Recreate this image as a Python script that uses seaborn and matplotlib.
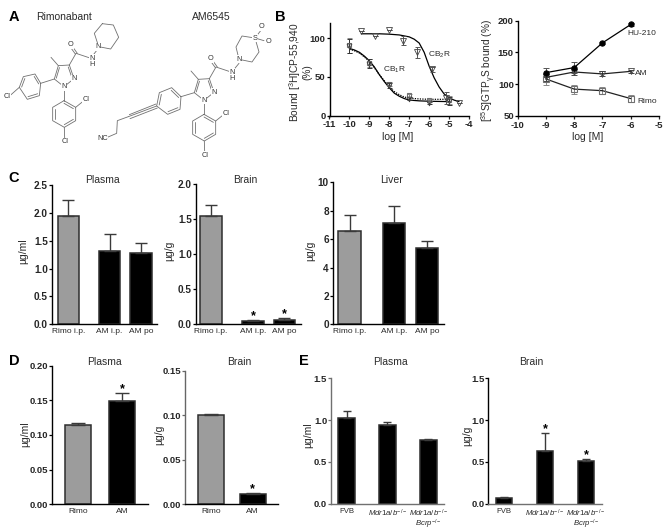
import numpy as np
import matplotlib
matplotlib.use("Agg")
import matplotlib.pyplot as plt
import seaborn as sns

W, H = 666, 532
sns.set_style("ticks")
plt.rcParams["font.family"] = ["Liberation Sans", "DejaVu Sans"]
plt.rcParams["mathtext.fontset"] = "custom"
plt.rcParams["mathtext.rm"] = "Liberation Sans"
plt.rcParams["mathtext.it"] = "Liberation Sans:italic"
plt.rcParams["mathtext.bf"] = "Liberation Sans:bold"
plt.rcParams["mathtext.default"] = "regular"
plt.rcParams["axes.unicode_minus"] = False

GREY = "#9c9c9c"
BLACK = "#000000"
EDGE = "#2e2e2e"
TXT = "#2a2a2a"

# panel B, binding curves
cb1_x = [-10, -9.75, -9.5, -9.25, -9, -8.75, -8.5, -8.25, -8, -7.75, -7.5, -7.25, -7, -6.5, -6, -5]
cb1_y = [87, 85, 82, 77, 71, 63, 53, 44, 36, 29, 25, 22, 20, 19, 18.5, 18]
cb1_dot_y = [86, 84, 81, 76, 70, 62, 53, 45, 37, 31, 27, 24, 22.5, 21.5, 21, 21]
cb2_x = [-9.4, -8.5, -8, -7.5, -7, -6.75, -6.5, -6.25, -6, -5.75, -5.5, -5.25, -5, -4.75, -4.5]
cb2_y = [106, 106, 105.5, 104.5, 102, 99, 94, 82, 64, 49, 37, 28, 23, 20, 18]
b_dose = [-10, -9, -8, -7, -6, -5]
b_square = [91, 68, 41, 26, 20, 20]
b_square_err = [10, 5, 3, 2, 1, 5]
b_tri = [90, 67, 39, 22, 16, 19]
b_tri_err = [9, 6, 3, 2, 1, 5]
cb2_pt_x = [-9.41, -8.72, -8, -7.31, -6.59, -5.88, -5.13, -4.48]
cb2_pt_y = [110, 103, 111, 97, 82, 60, 23, 16]
cb2_pt_err = [0, 0, 0, 6, 7, 3, 8, 0]

# panel B, GTP
gtp_dose = [-9, -8, -7, -6]
hu210 = [118, 126, 165, 194]
hu210_err = [7, 9, 2, 2]
am_gtp = [110.5, 119, 116, 120]
am_gtp_err = [5, 4, 4, 2]
rimo_gtp = [108, 92, 89.5, 77]
rimo_gtp_err = [9, 7, 6, 5]

# panel C
c_labels = ["Rimo i.p.", "AM i.p.", "AM po"]
c_colors = [GREY, BLACK, BLACK]
c_plasma = [1.94, 1.32, 1.28]
c_plasma_top = [2.23, 1.62, 1.46]
c_brain = [1.55, 0.05, 0.06]
c_brain_top = [1.70, 0.055, 0.085]
c_liver = [6.6, 7.1, 5.4]
c_liver_top = [7.7, 8.3, 5.85]

# panel D
d_labels = ["Rimo", "AM"]
d_colors = [GREY, BLACK]
d_plasma = [0.114, 0.149]
d_plasma_top = [0.118, 0.161]
d_brain = [0.101, 0.012]
d_brain_top = [0.102, 0.0125]

# panel E
e_labels = ["FVB", r"$\mathit{Mdr1a/b}^{-/-}$", "$\\mathit{Mdr1a/b}^{-/-}$\n$\\mathit{Bcrp}^{-/-}$"]
e_colors = [BLACK, BLACK, BLACK]
e_plasma = [1.02, 0.94, 0.76]
e_plasma_top = [1.11, 0.98, 0.775]
e_brain = [0.065, 0.63, 0.505]
e_brain_top = [0.075, 0.85, 0.53]


def new_axes(left, right, top, bottom):
    return fig.add_axes([left / W, 1 - bottom / H, (right - left) / W, (bottom - top) / H])


def style(ax, left_col="black", bottom_col="black", tick_size=6.8):
    sns.despine(ax=ax)
    ax.spines["left"].set_color(left_col)
    ax.spines["bottom"].set_color(bottom_col)
    ax.spines["left"].set_linewidth(1.0)
    ax.spines["bottom"].set_linewidth(1.0)
    ax.patch.set_alpha(0)
    ax.tick_params(axis="y", length=2, width=0.9, pad=0.8, labelsize=tick_size, color=left_col)
    for t in ax.get_yticklabels():
        t.set_fontweight("bold")


def ylab(text, px, py, size=7.5):
    fig.text(px / W, 1 - py / H, text, rotation=90, ha="center", va="center", fontsize=size, color=TXT)


def title(text, px, py):
    fig.text(px / W, 1 - py / H, text, ha="center", va="center", fontsize=7.5, color=TXT)


def bar_panel(rect, labels, values, tops, colors, slots, width, xlim, ymax, ticks, ticklabels,
              stars=(), left_col="black", bottom_col="black", cap=4, lab_size=6, lab_space=1.25, tick_size=6.8):
    ax = new_axes(*rect)
    sns.barplot(x=slots, y=values, hue=labels, palette=colors, native_scale=True, width=width,
                dodge=False, errorbar=None, edgecolor=EDGE, linewidth=1.1, legend=False, ax=ax)
    up = np.array(tops) - np.array(values)
    ax.errorbar(slots, values, yerr=[np.zeros(len(up)), up], fmt="none", ecolor="#3a3a3a",
                elinewidth=1.0, capsize=cap, capthick=1.0, zorder=1)
    ax.set_xlim(*xlim)
    ax.set_ylim(0, ymax)
    ax.set_yticks(ticks)
    ax.set_yticklabels(ticklabels)
    ax.set_xticks(slots)
    ax.set_xticklabels(labels, fontsize=lab_size, color=TXT, linespacing=lab_space)
    ax.tick_params(axis="x", length=0, pad=3)
    style(ax, left_col, bottom_col, tick_size)
    for i in stars:
        ax.annotate("*", xy=(slots[i], tops[i]), xytext=(0, -1.5), textcoords="offset points",
                    ha="center", va="bottom", fontsize=9, fontweight="bold", color="black")
    return ax


fig = plt.figure(figsize=(W / 100, H / 100), dpi=100)

# panel letters
for letter, lx, ly in [("A", 14, 17), ("B", 280, 17), ("C", 14, 178), ("D", 14, 361), ("E", 304, 361)]:
    fig.text(lx / W, 1 - ly / H, letter, ha="center", va="center", fontsize=10.5, fontweight="heavy", color="black")

# panel A: structures, drawn in picture coordinates x3
chem = fig.add_axes([0, 0, 1, 1])
chem.set_xlim(0, W * 3)
chem.set_ylim(H * 3, 0)
chem.axis("off")


def bonds(pts, closed=False, doubles=()):
    p = np.array(pts, float)
    seq = np.vstack([p, p[:1]]) if closed else p
    chem.plot(seq[:, 0], seq[:, 1], color="#707070", lw=0.6)
    c = p.mean(axis=0)
    for i in doubles:
        a, b = p[i], p[(i + 1) % len(p)]
        a2 = a + (c - a) * 0.2
        b2 = b + (c - b) * 0.2
        chem.plot([a2[0], b2[0]], [a2[1], b2[1]], color="#707070", lw=0.6)


def atom(text, x, y):
    chem.text(x, y, text, ha="center", va="center", fontsize=5.3, color="#333333",
              bbox=dict(fc="white", ec="none", pad=0.25))


def scaffold(dx, dy):
    s = lambda pts: [(x + dx, y + dy) for x, y in pts]
    bonds(s([(208, 195), (222, 236), (192, 260), (163, 237), (175, 197)]), closed=True, doubles=(0, 3))
    bonds(s([(175, 197), (153, 172)]))
    bonds(s([(208, 195), (228, 160), (270, 174)]))
    bonds(s([(226, 162), (208, 137)]))
    bonds(s([(232, 160), (214, 135)]))
    bonds(s([(192, 302), (227, 322), (227, 362), (193, 382), (158, 362), (158, 322)]), closed=True, doubles=(0, 2, 4))
    bonds(s([(192, 262), (192, 302)]))
    bonds(s([(227, 322), (248, 305)]))
    bonds(s([(193, 382), (194, 415)]))
    atom("O", 211 + dx, 135 + dy)
    atom("N", 276 + dx, 175 + dy)
    atom("H", 276 + dx, 195 + dy)
    atom("N", 222 + dx, 236 + dy)
    atom("N", 192 + dx, 260 + dy)
    atom("Cl", 258 + dx, 299 + dy)
    atom("Cl", 194 + dx, 425 + dy)


scaffold(0, 0)
bonds([(122, 250), (105, 222), (70, 230), (58, 262), (82, 298), (118, 287)], closed=True, doubles=(0, 2, 4))
bonds([(163, 237), (122, 250)])
bonds([(58, 262), (32, 285)])
bonds([(307, 71), (340, 75), (356, 112), (332, 147), (296, 140), (283, 100)], closed=True)
bonds([(295, 145), (278, 167)])
atom("Cl", 22, 288)
atom("N", 295, 140)

scaffold(420, 41)
bonds([(543, 290), (515, 263), (478, 278), (470, 318), (503, 343), (540, 328)], closed=True, doubles=(0, 2, 4))
bonds([(583, 278), (543, 290)])
bonds([(470, 318), (385, 350)])
bonds([(468, 312), (388, 344)])
bonds([(472, 324), (390, 356)])
bonds([(385, 350), (352, 362), (350, 400), (322, 412)])
atom("NC", 308, 415)
bonds([(717, 178), (708, 141), (726, 108), (765, 114), (777, 156), (756, 186)], closed=True)
bonds([(717, 190), (698, 213)])
bonds([(765, 114), (782, 92)])
bonds([(765, 114), (792, 122)])
atom("N", 717, 178)
atom("S", 765, 114)
atom("O", 785, 80)
atom("O", 805, 125)
chem.text(193, 52, "Rimonabant", ha="center", va="center", fontsize=7.5, color=TXT)
chem.text(635, 52, "AM6545", ha="center", va="center", fontsize=7.5, color=TXT)

# panel B left
ax = new_axes(329.5, 469, 23, 115.5)
sns.lineplot(x=cb1_x, y=cb1_dot_y, color="black", lw=0.9, ls=(0, (1, 1)), ax=ax)
sns.lineplot(x=cb1_x, y=cb1_y, color="black", lw=0.9, ax=ax)
sns.lineplot(x=cb2_x, y=cb2_y, color="black", lw=0.9, ax=ax)
ax.errorbar(b_dose, b_square, yerr=b_square_err, fmt="none", ecolor="#888888", elinewidth=0.7, capsize=1.8, capthick=0.7)
ax.errorbar(b_dose, b_tri, yerr=b_tri_err, fmt="none", ecolor="#333333", elinewidth=0.7, capsize=1.8, capthick=0.7)
ax.errorbar(cb2_pt_x, cb2_pt_y, yerr=cb2_pt_err, fmt="none", ecolor="#555555", elinewidth=0.7, capsize=1.8, capthick=0.7)
sns.lineplot(x=b_dose, y=b_square, ls="none", marker="s", ms=3.5, mfc="none", mec="#707070", mew=0.8, ax=ax)
sns.lineplot(x=b_dose, y=b_tri, ls="none", marker="v", ms=3.5, mfc="none", mec="#444444", mew=0.6, ax=ax)
sns.lineplot(x=cb2_pt_x, y=cb2_pt_y, ls="none", marker="v", ms=4, mfc="none", mec="#444444", mew=0.6, ax=ax)
ax.set_xlim(-11, -4)
ax.set_ylim(0, 120)
ax.set_xticks(range(-11, -3))
ax.set_yticks([0, 50, 100])
ax.tick_params(axis="x", length=2, width=0.9, pad=1.5, labelsize=6.8)
for t in ax.get_xticklabels():
    t.set_fontweight("bold")
style(ax)
fig.text(394.7 / W, 1 - 70 / H, "CB$_1$R", ha="center", va="center", fontsize=6, color=TXT)
fig.text(439 / W, 1 - 55 / H, "CB$_2$R", ha="center", va="center", fontsize=6, color=TXT)
fig.text(398 / W, 1 - 137 / H, "log [M]", ha="center", va="center", fontsize=7.5, color=TXT)
fig.text(299.5 / W, 1 - 72 / H, "Bound [$^3$H]CP-55,940\n(%)", rotation=90, ha="center", va="center",
         multialignment="center", fontsize=7.3, color=TXT, linespacing=0.9)

# panel B right
ax = new_axes(517.7, 659, 20.7, 115.7)
for yy, ee, ec in [(rimo_gtp, rimo_gtp_err, "#888888"), (am_gtp, am_gtp_err, "#444444"), (hu210, hu210_err, "#555555")]:
    ax.errorbar(gtp_dose, yy, yerr=ee, fmt="none", ecolor=ec, elinewidth=0.7, capsize=2.2, capthick=0.7)
sns.lineplot(x=gtp_dose, y=rimo_gtp, color="#222222", lw=0.9, marker="s", ms=3.8, mfc="none", mec="#707070", mew=0.8, ax=ax)
sns.lineplot(x=gtp_dose, y=am_gtp, color="#222222", lw=0.9, marker="v", ms=4, mfc="none", mec="#444444", mew=0.6, ax=ax)
sns.lineplot(x=gtp_dose, y=hu210, color="black", lw=0.9, marker="o", ms=3.8, mfc="black", mec="black", ax=ax)
ax.set_xlim(-10, -5)
ax.set_ylim(50, 200)
ax.set_xticks(range(-10, -4))
ax.set_yticks([50, 100, 150, 200])
ax.tick_params(axis="x", length=2, width=0.9, pad=1.5, labelsize=6.8)
for t in ax.get_xticklabels():
    t.set_fontweight("bold")
style(ax)
fig.text(642 / W, 1 - 33.7 / H, "HU-210", ha="center", va="center", fontsize=6, color=TXT)
fig.text(641 / W, 1 - 73 / H, "AM", ha="center", va="center", fontsize=6, color=TXT)
fig.text(647 / W, 1 - 101.7 / H, "Rimo", ha="center", va="center", fontsize=6, color=TXT)
fig.text(588 / W, 1 - 137 / H, "log [M]", ha="center", va="center", fontsize=7.5, color=TXT)
fig.text(489 / W, 1 - 70 / H, "[$^{35}$S]GTP$_{\\gamma}$S bound (%)", rotation=90, ha="center", va="center",
         fontsize=7.3, color=TXT)

# panel C
bar_panel((52, 157, 185, 324.3), c_labels, c_plasma, c_plasma_top, c_colors, [0, 1.32, 2.32], 0.68,
          (-0.516, 2.83), 2.5, [0, 0.5, 1, 1.5, 2, 2.5], ["0.0", "0.5", "1.0", "1.5", "2.0", "2.5"], tick_size=7.2)
ylab("µg/ml", 23, 251)
title("Plasma", 102, 180)
bar_panel((195.7, 301, 184, 324.3), c_labels, c_brain, c_brain_top, c_colors, [0, 1.33, 2.33], 0.68,
          (-0.49, 2.86), 2.0, [0, 0.5, 1, 1.5, 2], ["0.0", "0.5", "1.0", "1.5", "2.0"], stars=(1, 2), tick_size=7.2)
ylab("µg/g", 169, 251)
title("Brain", 245, 180)
bar_panel((332.7, 444, 182.3, 324.3), c_labels, c_liver, c_liver_top, c_colors, [0, 1.35, 2.35], 0.68,
          (-0.51, 2.86), 10, [0, 2, 4, 6, 8, 10], ["0", "2", "4", "6", "8", "10"], tick_size=7.2)
ylab("µg/g", 310, 251)
title("Liver", 392, 180)

# panel D
bar_panel((51.7, 148, 365.7, 504.3), d_labels, d_plasma, d_plasma_top, d_colors, [0, 1], 0.59,
          (-0.6, 1.58), 0.20, [0, 0.05, 0.10, 0.15, 0.20], ["0.00", "0.05", "0.10", "0.15", "0.20"], stars=(1,), cap=4.7)
ylab("µg/ml", 25, 434)
title("Plasma", 104.7, 361.7)
bar_panel((185, 277.7, 371, 504.3), d_labels, d_brain, d_brain_top, d_colors, [0, 1], 0.62,
          (-0.62, 1.60), 0.15, [0, 0.05, 0.10, 0.15], ["0.00", "0.05", "0.10", "0.15"], stars=(1,),
          left_col="#666666", cap=4.7)
ylab("µg/g", 159, 435)
title("Brain", 239, 361.7)

# panel E
bar_panel((331, 444.3, 378.3, 503.7), e_labels, e_plasma, e_plasma_top, e_colors, [0, 1, 2], 0.40,
          (-0.38, 2.39), 1.5, [0, 0.5, 1, 1.5], ["0.0", "0.5", "1.0", "1.5"],
          left_col="#707070", bottom_col="#707070", cap=3.2, lab_size=5.6, lab_space=0.8)
ylab("µg/ml", 308, 435)
title("Plasma", 390.7, 361.7)
bar_panel((488.3, 602.3, 378.3, 503.7), e_labels, e_brain, e_brain_top, e_colors, [0, 1, 2], 0.40,
          (-0.38, 2.40), 1.5, [0, 0.5, 1, 1.5], ["0.0", "0.5", "1.0", "1.5"], stars=(1, 2),
          bottom_col="#707070", cap=3.2, lab_size=5.6, lab_space=0.8)
ylab("µg/g", 467, 436)
title("Brain", 531.7, 361.7)

fig.savefig("out.png", dpi=100, facecolor="white")
